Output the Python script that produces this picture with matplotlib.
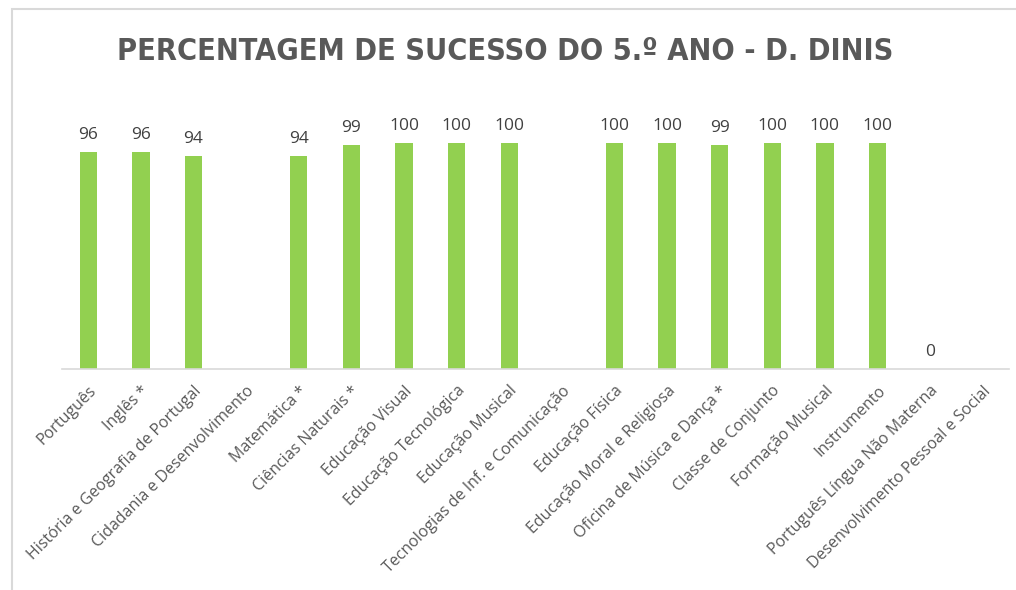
import matplotlib.pyplot as plt
import numpy as np

disciplinas = ['Português', 'Inglês *', 'História e Geografia de Portugal',
               'Cidadania e Desenvolvimento', 'Matemática *', 'Ciências Naturais *',
               'Educação Visual', 'Educação Tecnológica', 'Educação Musical',
               'Tecnologias de Inf. e Comunicação', 'Educação Física',
               'Educação Moral e Religiosa', 'Oficina de Música e Dança *',
               'Classe de Conjunto', 'Formação Musical', 'Instrumento',
               'Português Língua Não Materna', 'Desenvolvimento Pessoal e Social']
sucesso = [96, 96, 94, None, 94, 99, 100, 100, 100, None, 100, 100, 99, 100, 100, 100, 0, None]

plt.rcParams['font.family'] = ['Open Sans', 'DejaVu Sans']

fig = plt.figure(figsize=(10.16, 5.90), dpi=100)
# moldura cinzenta
fig.patches.append(plt.Rectangle((12/1016, -0.01), 1.0, (590-9)/590 + 0.01, transform=fig.transFigure,
                                 fill=False, edgecolor='#d9d9d9', linewidth=1.5))

ax = fig.add_axes([62/1016, (590-369)/590, (1009-62)/1016, 0.46])
x = np.arange(len(disciplinas))
vals = [v if v is not None else 0 for v in sucesso]
ax.bar(x, vals, width=0.33, color='#92d050')
for i, v in enumerate(sucesso):
    if v is not None:
        ax.annotate(str(v), (i, v), xytext=(0, 9.5), textcoords='offset points',
                    ha='center', va='baseline', fontsize=12.5, color='#404040')

ax.set_xlim(-0.5, len(disciplinas) - 0.5)
ax.set_ylim(0, 120)
ax.set_yticks([])
ax.set_xticks(x)
ax.set_xticklabels(disciplinas, rotation=45, ha='right', rotation_mode='anchor',
                   fontsize=11.5, color='#595959')
ax.tick_params(axis='x', length=0, pad=10)
for s in ['top', 'right', 'left']:
    ax.spines[s].set_visible(False)
ax.spines['bottom'].set_color('#d9d9d9')
ax.spines['bottom'].set_linewidth(1.2)

fig.text(0.497, 0.912, 'PERCENTAGEM DE SUCESSO DO 5.º ANO - D. DINIS', ha='center', va='center',
         fontsize=22, fontweight='bold', color='#595959',
         family='DejaVu Sans', fontstretch='condensed')

fig.savefig('out.png', dpi=100)
